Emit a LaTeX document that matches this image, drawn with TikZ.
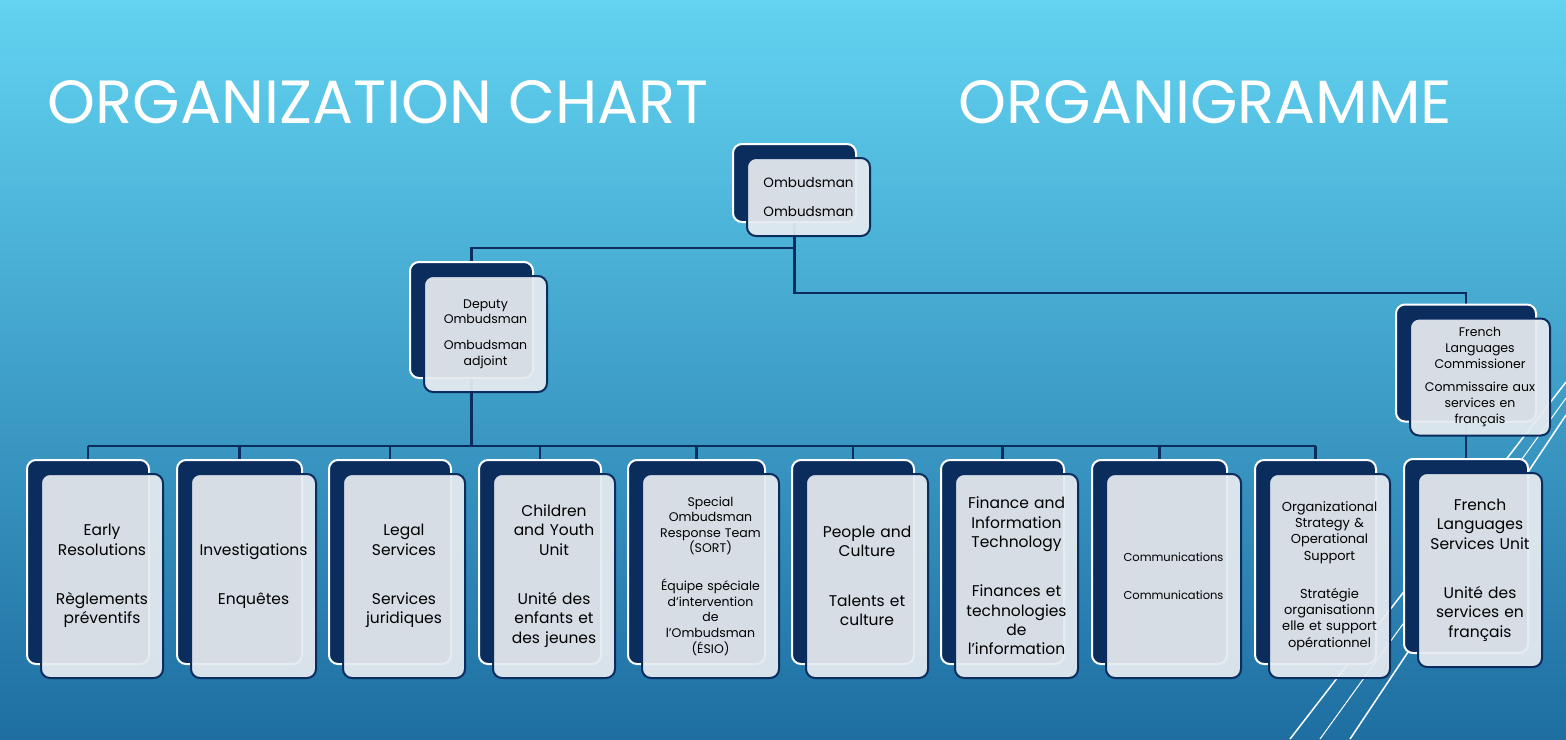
\documentclass[tikz,border=0pt]{standalone}
\usepackage{fontspec}
\setmainfont{Poppins}
\pgfdeclarelayer{bg}
\pgfdeclarelayer{background}
\pgfsetlayers{bg,background,main}
\definecolor{navy}{HTML}{0A2D5E}
\definecolor{pale}{HTML}{E6EBF0}
\definecolor{skytop}{HTML}{62D3F1}
\definecolor{skybot}{HTML}{1E6EA2}

\tikzset{
  backbox/.style={draw=white, line width=2pt, fill=navy, rounded corners=9pt, inner sep=0pt},
  frontbox/.style={draw=navy, line width=2pt, fill=pale, fill opacity=0.93, text opacity=1,
                   rounded corners=9pt, inner sep=0pt, align=center, text=black},
  link/.style={navy, line width=2.6pt},
  title/.style={white, font=\fontsize{61}{66}\selectfont, anchor=west}
}

% name, front centre x, y, width, height, font size, text
\newcommand\orgbox[7]{%
  \pgfmathsetmacro\tw{#4-6}%
  \pgfmathsetmacro\bs{#6*1.25}%
  \node[backbox, minimum width=#4pt, minimum height=#5pt] (#1-b) at (#2-14,#3-14) {};
  \node[frontbox, minimum width=#4pt, minimum height=#5pt, text width=\tw pt,
        font=\fontsize{#6}{\bs}\selectfont] (#1) at (#2,#3) {#7};
}

\begin{document}
\begin{tikzpicture}[x=1pt,y=-1pt]
  \useasboundingbox (0,0) rectangle (1566,739);
  \begin{pgfonlayer}{bg}
    \shade[top color=skytop, bottom color=skybot] (0,0) rectangle (1566,739);
    % decorative stripes
    \draw[white, line width=1.5pt] (1566,382) -- (1290,739);
    \draw[white, line width=1pt] (1566,398) -- (1320,739);
    \draw[white, line width=1.5pt] (1566,415) -- (1350,739);
  \end{pgfonlayer}

  \node[title] (en) at (44,102) {ORGANIZATION CHART};
  \node[title] (fr) at (955,102) {ORGANIGRAMME};

  % top levels
  \orgbox{top}{808.5}{197}{123}{78}{13.5}{Ombudsman\\[12pt]Ombudsman}
  \orgbox{dep}{485.5}{334}{123}{116}{12.5}{Deputy\\Ombudsman\\[10pt]Ombudsman\\adjoint}
  \orgbox{flc}{1480}{377}{140}{117}{12.5}{French\\Languages\\Commissioner\\[8pt]Commissaire aux\\services en\\français}
  \orgbox{flsu}{1480}{570}{124}{194}{15.5}{French\\Languages\\Services Unit\\[30pt]Unité des\\services en\\français}

  % units
  \orgbox{r1}{102}{576}{122}{204}{15.5}{Early\\Resolutions\\[30pt]Règlements\\préventifs}
  \orgbox{r2}{253.5}{576}{125}{204}{15.5}{Investigations\\[30pt]Enquêtes}
  \orgbox{r3}{404}{576}{122}{204}{15.5}{Legal\\Services\\[30pt]Services\\juridiques}
  \orgbox{r4}{554}{576}{122}{204}{15.5}{Children\\and Youth\\Unit\\[30pt]Unité des\\enfants et\\des jeunes}
  \orgbox{r5}{710.5}{576}{137}{204}{12.5}{Special\\Ombudsman\\Response Team\\(SORT)\\[22pt]Équipe spéciale\\d’intervention\\de\\l’Ombudsman\\(ÉSIO)}
  \orgbox{r6}{867}{576}{122}{204}{15.5}{People and\\Culture\\[30pt]Talents et\\culture}
  \orgbox{r7}{1016.5}{576}{123}{204}{15.5}{Finance and\\Information\\Technology\\[30pt]Finances et\\technologies\\de\\l’information}
  \orgbox{r8}{1173.5}{576}{135}{204}{11.5}{Communications\\[24pt]Communications}
  \orgbox{r9}{1329.5}{576}{121}{204}{13}{Organizational\\Strategy \&\\Operational\\Support\\[22pt]Stratégie\\organisationn\\elle et support\\opérationnel}

  % connectors
  \begin{pgfonlayer}{background}
    \draw[link] (top-b.south) -- (top-b.south |- 0,293) -| (flc-b.north);
    \draw[link] (top-b.south |- 0,248) -| (dep-b.north);
    \draw[link] (dep-b.south) -- (dep-b.south |- 0,446);
    \draw[link] (r1-b.north |- 0,446) -- (r9-b.north |- 0,446);
    \foreach \n in {r1,r2,r3,r4,r5,r6,r7,r8,r9}
      \draw[link] (\n-b.north) -- (\n-b.north |- 0,446);
    \draw[link] (flc-b.south) -- (flsu-b.north);
  \end{pgfonlayer}
\end{tikzpicture}
\end{document}
